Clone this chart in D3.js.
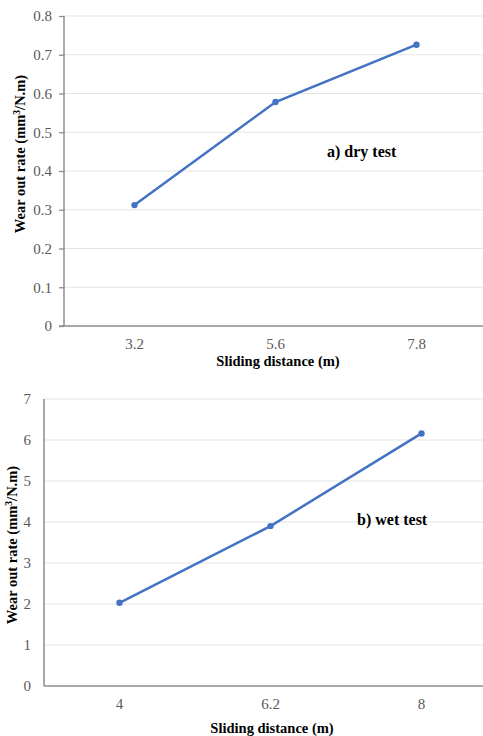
<!DOCTYPE html>
<html>
<head>
<meta charset="utf-8">
<script src="https://cdn.jsdelivr.net/npm/d3@7"></script>
<style>
  body { margin: 0; background: #fff; }
</style>
</head>
<body>
<div id="chart"></div>
<script>
// data
const dryDistance = ['3.2', '5.6', '7.8'];
const dryWear     = [0.312, 0.578, 0.726];
const dryTicks    = [0, 0.1, 0.2, 0.3, 0.4, 0.5, 0.6, 0.7, 0.8];

const wetDistance = ['4', '6.2', '8'];
const wetWear     = [2.03, 3.9, 6.16];
const wetTicks    = [0, 1, 2, 3, 4, 5, 6, 7];

const W = 483, H = 736;
const FONT = '"Liberation Serif"';

const svg = d3.select('#chart').append('svg')
  .attr('width', W)
  .attr('height', H);

function drawPanel(p) {
  const g = svg.append('g');

  const x = d3.scaleBand()
    .domain(p.cats)
    .range([p.left, p.right]);

  const y = d3.scaleLinear()
    .domain([0, p.max])
    .range([p.bottom, p.top]);

  // gridlines
  g.selectAll('.grid')
    .data(p.ticks.filter(d => d > 0))
    .enter().append('line')
      .attr('x1', p.left).attr('x2', W)
      .attr('y1', d => y(d)).attr('y2', d => y(d))
      .attr('stroke', '#e3e3e3')
      .attr('stroke-width', 1.2);

  // y axis
  const yAxis = g.append('g')
    .attr('transform', `translate(${p.left},0)`)
    .call(d3.axisLeft(y).tickValues(p.ticks).tickSize(p.tick).tickPadding(p.pad)
      .tickFormat(d => String(d)));
  yAxis.attr('font-family', null).attr('font-size', null);
  yAxis.select('.domain').remove();
  yAxis.selectAll('.tick line').attr('stroke', '#8c8c8c').attr('stroke-width', 1.3);
  yAxis.selectAll('text')
    .style('font-family', FONT)
    .style('font-size', '15px')
    .attr('fill', '#595959');
  g.append('line')
    .attr('x1', p.left).attr('x2', p.left)
    .attr('y1', p.top).attr('y2', p.bottom)
    .attr('stroke', '#8c8c8c').attr('stroke-width', 1.5);

  // x axis
  const xAxis = g.append('g')
    .attr('transform', `translate(0,${p.bottom})`)
    .call(d3.axisBottom(x).tickSize(0).tickPadding(p.xpad));
  xAxis.attr('font-family', null).attr('font-size', null);
  xAxis.select('.domain').remove();
  xAxis.selectAll('text')
    .style('font-family', FONT)
    .style('font-size', '15px')
    .attr('fill', '#595959');
  g.append('line')
    .attr('x1', p.left - p.tick).attr('x2', W)
    .attr('y1', p.bottom).attr('y2', p.bottom)
    .attr('stroke', '#8c8c8c').attr('stroke-width', 1.5);

  // line + markers
  const pts = p.cats.map((c, i) => [x(c) + x.bandwidth() / 2, y(p.values[i])]);
  g.append('path')
    .datum(pts)
    .attr('fill', 'none')
    .attr('stroke', '#4472c4')
    .attr('stroke-width', 2.5)
    .attr('d', d3.line());
  g.selectAll('.dot')
    .data(pts)
    .enter().append('circle')
      .attr('cx', d => d[0]).attr('cy', d => d[1])
      .attr('r', 3.2)
      .attr('fill', '#4472c4');

  // axis titles
  g.append('text')
    .attr('x', p.xTitle[0]).attr('y', p.xTitle[1])
    .attr('text-anchor', 'middle')
    .style('font-family', FONT)
    .style('font-size', '14.5px')
    .style('font-weight', 'bold')
    .text('Sliding distance (m)');

  const yt = g.append('text')
    .attr('transform', `translate(${p.yTitle[0]},${p.yTitle[1]}) rotate(-90)`)
    .attr('text-anchor', 'middle')
    .style('font-family', FONT)
    .style('font-size', '14.5px')
    .style('font-weight', 'bold');
  yt.append('tspan').text('Wear out rate (mm');
  yt.append('tspan').attr('dy', -5).style('font-size', '9.5px').text('3');
  yt.append('tspan').attr('dy', 5).text('/N.m)');

  // panel label
  g.append('text')
    .attr('x', p.label[0]).attr('y', p.label[1])
    .style('font-family', FONT)
    .style('font-size', '16px')
    .style('font-weight', 'bold')
    .text(p.labelText);
}

drawPanel({
  cats: dryDistance, values: dryWear, ticks: dryTicks, max: 0.8,
  left: 64, right: 487, top: 16, bottom: 326,
  tick: 5, pad: 7, xpad: 12,
  xTitle: [278, 366], yTitle: [25, 154],
  label: [327, 157], labelText: 'a) dry test'
});

drawPanel({
  cats: wetDistance, values: wetWear, ticks: wetTicks, max: 7,
  left: 44, right: 497, top: 399, bottom: 686,
  tick: 0, pad: 13, xpad: 12,
  xTitle: [272, 733], yTitle: [17, 545],
  label: [357, 525], labelText: 'b) wet test'
});
</script>
</body>
</html>
